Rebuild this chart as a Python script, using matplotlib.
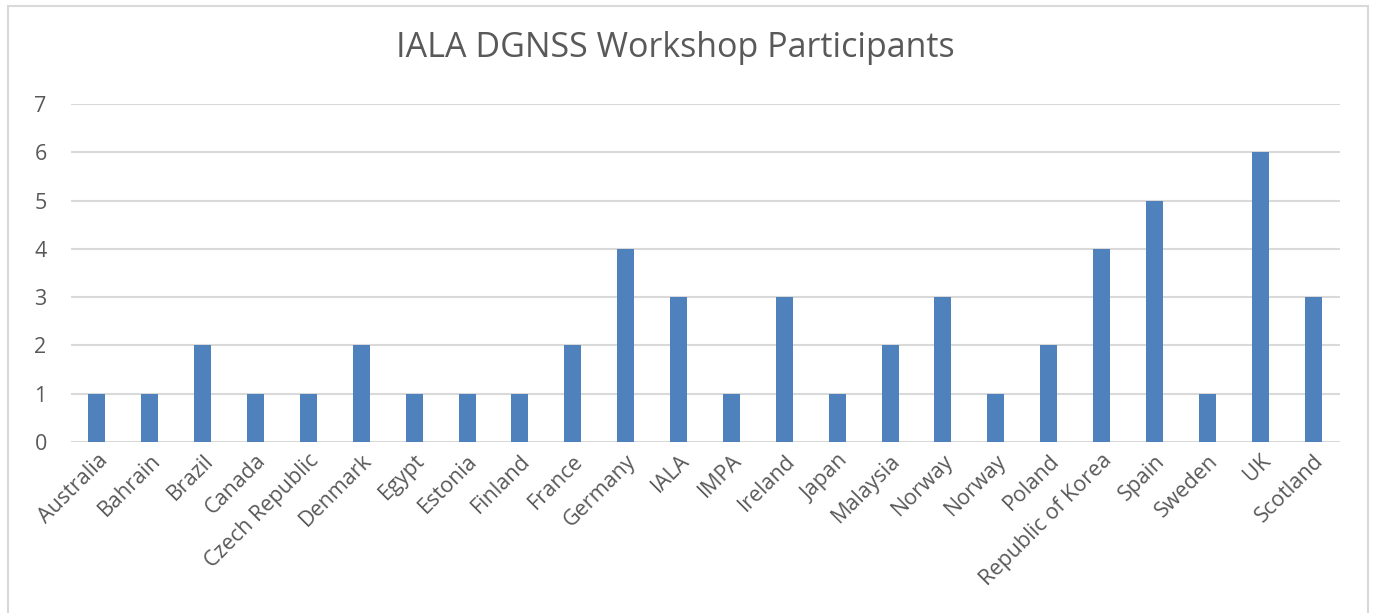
import matplotlib
matplotlib.use("Agg")
import matplotlib.pyplot as plt
from matplotlib.patches import Rectangle

categories = ["Australia", "Bahrain", "Brazil", "Canada", "Czech Republic", "Denmark",
              "Egypt", "Estonia", "Finland", "France", "Germany", "IALA", "IMPA",
              "Ireland", "Japan", "Malaysia", "Norway", "Norway", "Poland",
              "Republic of Korea", "Spain", "Sweden", "UK", "Scotland"]
participants = [1, 1, 2, 1, 1, 2, 1, 1, 1, 2, 4, 3, 1, 3, 1, 2, 3, 1, 2, 4, 5, 1, 6, 3]
y_ticks = [0, 1, 2, 3, 4, 5, 6, 7]
title = "IALA DGNSS Workshop Participants"

plt.rcParams['font.family'] = ['Open Sans', 'DejaVu Sans']
W, H = 1373, 613
fig = plt.figure(figsize=(W / 100, H / 100), dpi=100)
fig.patch.set_facecolor("white")

# chart border
fig.add_artist(Rectangle((8 / W, -0.05), (1368 - 8) / W, 1.05 - 6 / H, transform=fig.transFigure,
                         fill=False, edgecolor="#D9D9D9", linewidth=1.5))

ax = fig.add_axes([70.5 / W, 1 - 442 / H, (1339.5 - 70.5) / W, (442 - 104) / H])
x = list(range(len(categories)))
ax.bar(x, participants, width=0.32, color="#4F81BD", zorder=3)
ax.set_xlim(-0.5, len(categories) - 0.5)
ax.set_ylim(0, 7)
ax.set_yticks(y_ticks)
ax.set_xticks(x)
ax.set_xticklabels(categories, rotation=45, ha="right", rotation_mode="anchor")
ax.tick_params(axis="both", length=0, colors="#595959", labelsize=15.5)
ax.tick_params(axis="x", pad=6)
ax.tick_params(axis="y", pad=26)
for lab in ax.get_yticklabels():
    lab.set_horizontalalignment("left")
ax.grid(axis="y", color="#D9D9D9", linewidth=1.5, zorder=0)
for s in ax.spines.values():
    s.set_visible(False)

fig.text(675 / W, 1 - 48 / H, title, ha="center", va="center",
         fontsize=24.5, color="#595959")

fig.savefig("out.png", dpi=100)
